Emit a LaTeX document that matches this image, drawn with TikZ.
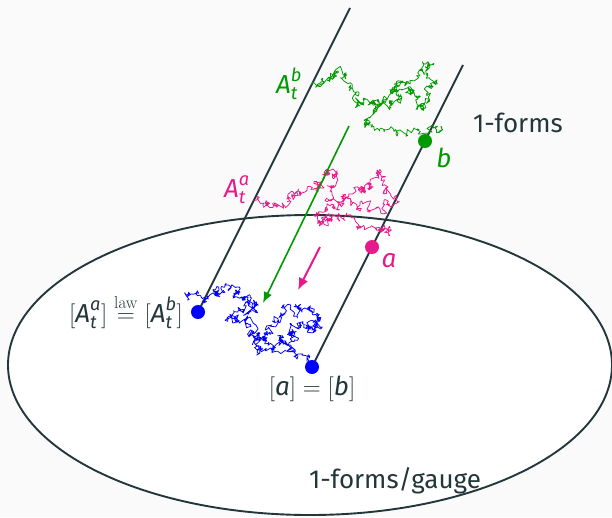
\documentclass[tikz,border=0pt]{standalone}
\usepackage{amsmath}
\usepackage[no-math]{fontspec}
\setmainfont{Fira Sans}
\usetikzlibrary{arrows.meta}
\definecolor{dk}{HTML}{23373B}
\definecolor{gr}{HTML}{009A00}
\definecolor{mg}{HTML}{E8198B}
\definecolor{bl}{HTML}{0000FF}
\definecolor{bgc}{HTML}{FAFAFA}
\newcommand\sv[1]{\text{\itshape #1}}
\newcommand\walkinit[2]{\xdef\wx{#1}\xdef\wy{#2}\xdef\wpath{(#1,#2)}}
\newcommand\walkto[2]{%
  \foreach \kk in {16,15,...,1}{%
    \pgfmathsetmacro\nx{\wx+(#1-\wx)/\kk+\wnoise*rand}%
    \pgfmathsetmacro\ny{\wy+(#2-\wy)/\kk+\wnoise*rand}%
    \xdef\wx{\nx}\xdef\wy{\ny}%
    \xdef\wpath{\wpath(\wx,\wy)}%
  }}
\newcommand\walkthrough[1]{\foreach \wa/\wb in {#1}{\walkto{\wa}{\wb}}}
\def\wnoise{3.2}
\begin{document}
\begin{tikzpicture}[x=1pt,y=-1pt,
  lbl/.style={font=\fontsize{26}{31}\selectfont, inner sep=0pt},
  dot/.style={circle, inner sep=0pt, minimum size=14pt},
  axisline/.style={dk, line width=1.9pt},
  walk/.style={line width=0.75pt, line join=round}]
\useasboundingbox (0,0) rectangle (612,517);
\fill[bgc] (0,0) rectangle (612,517);
\draw[dk, line width=1.9pt, fill=white] (310,365) ellipse [x radius=302, y radius=150];
% coordinates
\coordinate (ltop) at (350,8);
\coordinate (rtop) at (463,65);
\coordinate (pl) at (198,312);
\coordinate (pr) at (312,367);
\coordinate (pa) at (372,247);
\coordinate (pb) at (425,141);
\draw[axisline] (ltop) -- (pl);
\draw[axisline] (rtop) -- (pr);
% green walk
\pgfmathsetseed{7}
\walkinit{311}{84}
\walkthrough{320/80,330/77,338/75,347/77,350/87,355/100,363/103,373/100,383/98,393/90,397/83,405/80,417/77,423/67,430/65,427/77,430/87,427/100,423/110,417/100,410/93,403/90,400/97,393/103,380/107,373/113,368/120,373/128,393/130,413/130,430/130,440/129}
\edef\tmp{\noexpand\draw[walk, gr] plot coordinates {\wpath};}\tmp
% magenta walk
\pgfmathsetseed{11}
\walkinit{253}{200}
\walkthrough{263/203,273/205,287/203,293/197,307/190,317/183,323/177,330/170,335/177,333/190,335/200,347/197,360/193,370/187,377/180,383/177,387/190,390/207,383/210,367/203,353/203,340/207,330/210,320/217,317/223,323/227,330/217,340/217,353/220,370/227,383/230,387/237}
\edef\tmp{\noexpand\draw[walk, mg] plot coordinates {\wpath};}\tmp
% blue walk
\pgfmathsetseed{5}
\walkinit{187}{300}
\walkthrough{197/295,207/297,217/293,223/290,232/287,237/293,243/297,250/300,257/302,250/307,243/310,237/313,227/317,237/320,247/323,250/333,257/340,267/337,270/330,277/323,283/313,287/307,297/307,310/310,317/317,320/320,313/323,310/330,307/325,297/323,290/330,290/337,297/340,293/347,283/343,277/340,267/340,257/343,260/347,277/348,290/350,300/357,310/363}
\edef\tmp{\noexpand\draw[walk, bl] plot coordinates {\wpath};}\tmp
% arrows
\coordinate (gs) at (349,126);
\coordinate (ge) at (263,303);
\coordinate (ms) at (320,247);
\coordinate (me) at (298,290);
\draw[gr, line width=1.6pt, -{Latex[length=11pt,width=9pt]}] (gs) -- (ge);
\draw[mg, line width=2pt, -{Latex[length=12pt,width=10pt]}] (ms) -- (me);
% dots
\node[dot, fill=bl] (dl) at (pl) {};
\node[dot, fill=bl] (dr) at (pr) {};
\node[dot, fill=mg] (da) at (pa) {};
\node[dot, fill=gr] (db) at (pb) {};
% labels
\node[lbl, dk, anchor=base west] (t1) at (473,132) {1-forms};
\node[lbl, dk, anchor=base west] (t2) at (309,488) {1-forms/gauge};
\node[lbl, gr, anchor=base] (lb) at (444,167) {\itshape b};
\node[lbl, mg, anchor=base] (la) at (389,267) {\itshape a};
\node[lbl, gr, anchor=base west] (lAb) at (276,93) {$\sv{A}^{\sv{b}}_{\sv{t}}$};
\node[lbl, mg, anchor=base west] (lAa) at (224,197) {$\sv{A}^{\sv{a}}_{\sv{t}}$};
\node[lbl, dk, anchor=base] (leq) at (126,322) {$[\sv{A}^{\sv{a}}_{\sv{t}}] \overset{\mathrm{law}}{=} [\sv{A}^{\sv{b}}_{\sv{t}}]$};
\node[lbl, dk, anchor=base] (lab) at (312,395) {$[\sv{a}] = [\sv{b}]$};
\end{tikzpicture}
\end{document}
